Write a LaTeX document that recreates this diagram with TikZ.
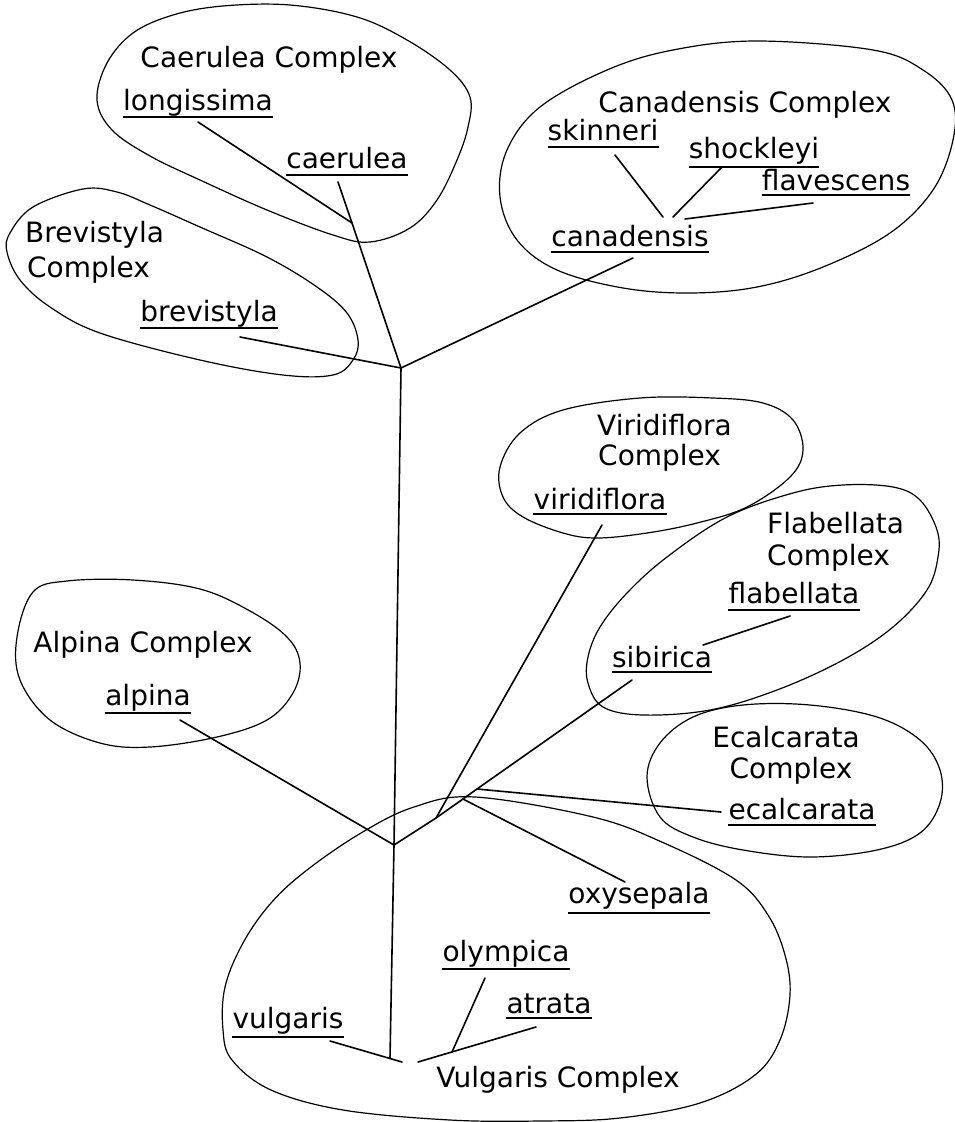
\documentclass[tikz,border=0pt]{standalone}
\usepackage{fontspec}
\setmainfont{DejaVu Sans}
\tikzset{
  lbl/.style={inner sep=0pt, anchor=base, font=\fontsize{28}{32}\selectfont},
  lblw/.style={lbl, anchor=base west},
  uline/.style={line width=1.3pt},
  branch/.style={line width=1.6pt, line cap=round},
  hull/.style={line width=1.2pt},
}
\newcommand\taxon[5]{%
  \node[lbl] (#1) at (#2,#3) {#4};
  \draw[uline] (#1.base west |- 0,#5) -- (#1.base east |- 0,#5);}
\begin{document}
\begin{tikzpicture}[x=1pt,y=-1pt]
\useasboundingbox (0,0) rectangle (954,1122);

% ---------- complex outlines ----------
\draw[hull] plot[smooth cycle, tension=0.6] coordinates {
 (97,100) (107,63) (133,33) (173,15) (223,6) (290,5) (357,17) (407,40) (450,70) (470,97)
 (468,127) (457,160) (437,200) (410,228) (370,242) (333,235) (267,210) (200,180) (150,156) (112,130)};
\draw[hull] plot[smooth cycle, tension=0.6] coordinates {
 (83,189) (33,207) (10,233) (7,252) (20,280) (50,307) (100,333) (200,360) (283,375) (333,375)
 (353,360) (358,340) (347,313) (317,287) (267,257) (200,227) (150,205) (117,192)};
\draw[hull] plot[smooth cycle, tension=0.6] coordinates {
 (757,41) (873,50) (923,70) (952,100) (953,140) (933,190) (890,233) (823,267) (757,287) (690,293)
 (623,288) (557,270) (517,240) (500,197) (507,150) (540,107) (607,70) (673,50)};
\draw[hull] plot[smooth cycle, tension=0.6] coordinates {
 (713,398) (763,403) (793,420) (803,450) (790,477) (747,507) (697,523) (647,533) (597,538)
 (563,533) (523,517) (503,497) (500,467) (520,433) (563,410) (640,398)};
\draw[hull] plot[smooth cycle, tension=0.6] coordinates {
 (843,485) (893,487) (920,500) (937,530) (938,557) (927,590) (893,627) (843,660) (777,690)
 (710,710) (643,715) (603,707) (588,683) (588,657) (600,627) (627,593) (667,557) (727,517) (793,493)};
\draw[hull] plot[smooth cycle, tension=0.6] coordinates {
 (647,777) (660,743) (693,717) (743,705) (810,705) (877,717) (920,740) (940,770) (940,803)
 (920,833) (877,850) (810,857) (743,850) (693,837) (660,817)};
\draw[hull] plot[smooth cycle, tension=0.6] coordinates {
 (33,592) (67,581) (133,580) (200,589) (250,611) (287,637) (300,663) (293,693) (267,720)
 (217,737) (150,747) (100,743) (50,720) (20,680) (17,637)};
\draw[hull] plot[smooth cycle, tension=0.6] coordinates {
 (475,797) (593,817) (664,843) (736,880) (768,915) (785,955) (790,995) (780,1040) (755,1075)
 (700,1103) (620,1118) (540,1121) (450,1120) (343,1110) (271,1090) (232,1060) (223,1030)
 (225,987) (243,943) (271,903) (307,870) (361,833) (414,807)};

% ---------- texts ----------
\node[lbl] (caeT) at (269,67) {Caerulea Complex};
\taxon{longissima}{198}{110}{longissima}{117}
\taxon{caerulea}{347}{168}{caerulea}{175}
\node[lblw] (brevT1) at (25,242) {Brevistyla};
\node[lblw] (brevT2) at (27,277) {Complex};
\taxon{brevistyla}{209}{321}{brevistyla}{328}
\node[lbl] (canT) at (745,112) {Canadensis Complex};
\taxon{skinneri}{603}{140}{skinneri}{147}
\taxon{shockleyi}{754}{158}{shockleyi}{167}
\taxon{flavescens}{836}{190}{flavescens}{195}
\taxon{canadensis}{630}{246}{canadensis}{252}
\node[lblw] (virT1) at (597,435) {Viridiflora};
\node[lblw] (virT2) at (598,465) {Complex};
\taxon{viridiflora}{600}{509}{viridiflora}{514}
\node[lblw] (flaT1) at (767,533) {Flabellata};
\node[lblw] (flaT2) at (767,565) {Complex};
\taxon{flabellata}{794}{603}{flabellata}{610}
\taxon{sibirica}{662}{667}{sibirica}{672}
\node[lbl] (ecaT1) at (786,747) {Ecalcarata};
\node[lbl] (ecaT2) at (791,778) {Complex};
\taxon{ecalcarata}{802}{819}{ecalcarata}{825}
\node[lbl] (alpT) at (143,652) {Alpina Complex};
\taxon{alpina}{148}{705}{alpina}{713}
\taxon{oxysepala}{639}{903}{oxysepala}{913}
\taxon{olympica}{506}{961}{olympica}{969}
\taxon{atrata}{549}{1013}{atrata}{1018}
\taxon{vulgaris}{288}{1028}{vulgaris}{1037}
\node[lbl] (vulT) at (558,1087) {Vulgaris Complex};

% ---------- junctions and line ends ----------
\coordinate (T) at (401,368);
\coordinate (K) at (352,223);
\coordinate (lgE) at (198,122);
\coordinate (caE) at (338,182);
\coordinate (brE) at (240,337);
\coordinate (cnE) at (633,258);
\coordinate (skE1) at (615,155);  \coordinate (skE2) at (663,217);
\coordinate (shE1) at (722,167);  \coordinate (shE2) at (673,217);
\coordinate (fvE1) at (813,203);  \coordinate (fvE2) at (685,219);
\coordinate (A) at (394,845);
\coordinate (Bot) at (390,1058);
\coordinate (alE) at (180,720);
\coordinate (V) at (436,818);
\coordinate (B) at (463,799);
\coordinate (C) at (477,789);
\coordinate (viE) at (602,525);
\coordinate (sbE) at (632,680);
\coordinate (ecE) at (721,812);
\coordinate (oxE) at (625,882);
\coordinate (fbE1) at (790,616); \coordinate (fbE2) at (703,645);
\coordinate (vuE1) at (330,1041); \coordinate (vuE2) at (402,1062);
\coordinate (atE1) at (536,1027); \coordinate (atE2) at (418,1062);
\coordinate (olE1) at (485,978);  \coordinate (olE2) at (452,1052);

% ---------- connectors ----------
\draw[branch] (caE) -- (K) -- (T);
\draw[branch] (lgE) -- (K);
\draw[branch] (brE) -- (T);
\draw[branch] (cnE) -- (T);
\draw[branch] (skE1) -- (skE2);
\draw[branch] (shE1) -- (shE2);
\draw[branch] (fvE1) -- (fvE2);
\draw[branch] (T) -- (A) -- (Bot);
\draw[branch] (alE) -- (A);
\draw[branch] (A) -- (V) -- (B) -- (C) -- (sbE);
\draw[branch] (V) -- (viE);
\draw[branch] (C) -- (ecE);
\draw[branch] (B) -- (oxE);
\draw[branch] (fbE1) -- (fbE2);
\draw[branch] (vuE1) -- (vuE2);
\draw[branch] (atE1) -- (atE2);
\draw[branch] (olE1) -- (olE2);
\end{tikzpicture}
\end{document}
